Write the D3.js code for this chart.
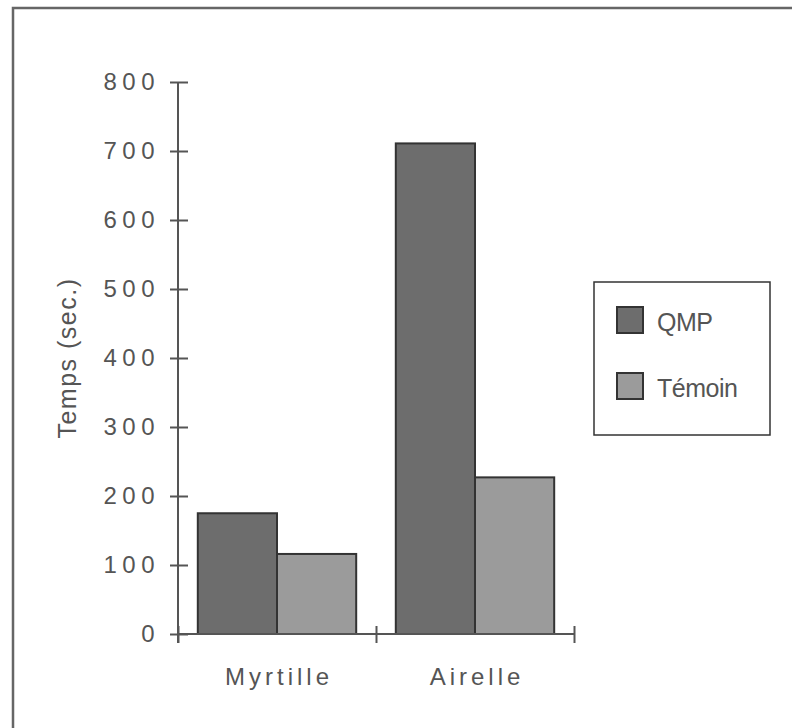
<!DOCTYPE html>
<html>
<head>
<meta charset="utf-8">
<script src="https://cdn.jsdelivr.net/npm/d3@7"></script>
<style>
  body { margin: 0; background: #fff; }
  text { font-family: "Liberation Sans", Arial, sans-serif; fill: #555; }
</style>
</head>
<body>
<div id="container"></div>
<script>
/* CONSTANTS AND GLOBALS */
const width = 792,
  height = 728,
  margin = { top: 82, bottom: 94, left: 178, right: 220 };

/* DATA */
const categories = ["Myrtille", "Airelle"];
const series = ["QMP", "Témoin"];
const qmpValues = [175, 711];
const temoinValues = [116, 227];
const yTicks = [0, 100, 200, 300, 400, 500, 600, 700, 800];
const colors = ["#6d6d6d", "#9b9b9b"];

const data = categories.map((c, i) => ({
  category: c,
  values: [
    { key: series[0], value: qmpValues[i] },
    { key: series[1], value: temoinValues[i] }
  ]
}));

/* SCALES */
const xScale = d3.scaleBand()
  .domain(categories)
  .range([margin.left, width - margin.right + 2])
  .paddingInner(0.2)
  .paddingOuter(0.1);

const xInner = d3.scaleBand()
  .domain(series)
  .range([0, xScale.bandwidth()]);

// boundaries between categories (where the x ticks sit)
const xEdges = d3.scaleLinear()
  .domain([0, categories.length])
  .range([margin.left, width - margin.right + 2]);

const yScale = d3.scaleLinear()
  .domain([0, 800])
  .range([height - margin.bottom, margin.top]);

const color = d3.scaleOrdinal().domain(series).range(colors);

/* HTML ELEMENTS */
const svg = d3.select("#container")
  .append("svg")
  .attr("width", width)
  .attr("height", height);

// outer frame (runs off the right and bottom edges)
svg.append("path")
  .attr("d", `M13,${height + 5}V8H${width + 5}`)
  .attr("fill", "none")
  .attr("stroke", "#666")
  .attr("stroke-width", 2.5);

// bars
const groups = svg.selectAll("g.cat")
  .data(data)
  .join("g")
  .attr("class", "cat")
  .attr("transform", d => `translate(${xScale(d.category)},0)`);

groups.selectAll("rect")
  .data(d => d.values)
  .join("rect")
  .attr("x", d => xInner(d.key))
  .attr("y", d => yScale(d.value))
  .attr("width", xInner.bandwidth())
  .attr("height", d => yScale(0) - yScale(d.value))
  .attr("fill", d => color(d.key))
  .attr("stroke", "#333")
  .attr("stroke-width", 2);

// y axis
const yAxis = d3.axisLeft(yScale)
  .tickValues(yTicks)
  .tickSize(0)
  .tickPadding(18);

svg.append("g")
  .attr("transform", `translate(${margin.left},0)`)
  .call(yAxis)
  .call(g => g.select(".domain")
    .attr("d", `M0,${yScale(800)}V${yScale(0) + 9}`)
    .attr("stroke", "#555").attr("stroke-width", 2))
  .call(g => g.selectAll(".tick line")
    .attr("x1", -8).attr("x2", 10)
    .attr("stroke", "#555").attr("stroke-width", 2))
  .call(g => g.selectAll(".tick text")
    .attr("font-size", 24)
    .attr("letter-spacing", 5.5)
    .attr("font-family", null)
    .attr("fill", "#555"));

// x axis
const xAxis = d3.axisBottom(xEdges)
  .tickValues([0, 1, 2])
  .tickFormat("")
  .tickSize(0);

svg.append("g")
  .attr("transform", `translate(0,${yScale(0)})`)
  .call(xAxis)
  .call(g => g.select(".domain")
    .attr("d", `M${margin.left},0H${xEdges(2)}`)
    .attr("stroke", "#555").attr("stroke-width", 2))
  .call(g => g.selectAll(".tick line")
    .attr("y1", -8).attr("y2", 9)
    .attr("stroke", "#555").attr("stroke-width", 2));

// category labels
svg.selectAll("text.cat-label")
  .data(categories)
  .join("text")
  .attr("class", "cat-label")
  .attr("x", d => xScale(d) + xScale.bandwidth() / 2 + 2)
  .attr("y", yScale(0) + 51)
  .attr("text-anchor", "middle")
  .attr("font-size", 24)
  .attr("letter-spacing", 4)
  .text(d => d);

// y title
svg.append("text")
  .attr("transform", `translate(76,${(yScale(0) + yScale(800)) / 2}) rotate(-90)`)
  .attr("text-anchor", "middle")
  .attr("font-size", 25)
  .attr("letter-spacing", 1.5)
  .text("Temps (sec.)");

// legend
const legend = svg.append("g").attr("transform", "translate(594,282)");

legend.append("rect")
  .attr("width", 176)
  .attr("height", 153)
  .attr("fill", "#fff")
  .attr("stroke", "#333")
  .attr("stroke-width", 1.5);

const items = legend.selectAll("g.item")
  .data(series)
  .join("g")
  .attr("class", "item")
  .attr("transform", (d, i) => `translate(23,${25 + i * 66})`);

items.append("rect")
  .attr("width", 26)
  .attr("height", 26)
  .attr("fill", d => color(d))
  .attr("stroke", "#333")
  .attr("stroke-width", 2);

items.append("text")
  .attr("x", 40)
  .attr("y", 24)
  .attr("font-size", 25)
  .attr("letter-spacing", -0.5)
  .text(d => d);
</script>
</body>
</html>
